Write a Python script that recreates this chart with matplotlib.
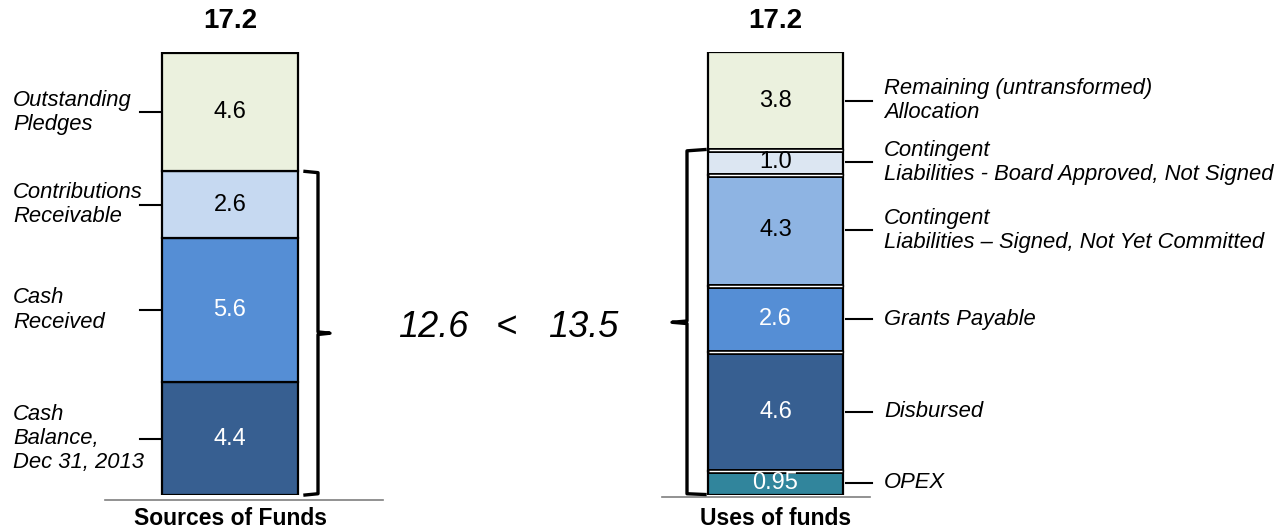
import matplotlib
matplotlib.use("Agg")
import matplotlib.pyplot as plt
import numpy as np

plt.rcParams['font.family'] = ['Liberation Sans', 'DejaVu Sans']

# valores (US$ bilhoes), de baixo para cima
fontes_labels = ['Cash\nBalance,\nDec 31, 2013', 'Cash\nReceived',
                 'Contributions\nReceivable', 'Outstanding\nPledges']
fontes_vals = [4.4, 5.6, 2.6, 4.6]
fontes_cores = ['#375F91', '#558ED5', '#C6D9F1', '#EBF1DE']
fontes_txt = ['white', 'white', 'black', 'black']

usos_labels = ['OPEX', 'Disbursed', 'Grants Payable',
               'Contingent\nLiabilities \u2013 Signed, Not Yet Committed',
               'Contingent\nLiabilities - Board Approved, Not Signed',
               'Remaining (untransformed)\nAllocation']
usos_vals = [0.95, 4.6, 2.6, 4.3, 1.0, 3.8]
usos_cores = ['#31859C', '#375F91', '#558ED5', '#8EB4E3', '#DCE6F2', '#EBF1DE']
usos_txt = ['white', 'white', 'white', 'black', 'black', 'black']

totais = [17.2, 17.2]
chave_totais = [12.6, 13.5]
chave_n = [3, 5]          # quantos segmentos a chave abrange
eixo_labels = ['Sources of Funds', 'Uses of funds']

fig = plt.figure(figsize=(12.82, 5.30), dpi=100)
ax = fig.add_axes([0, 0.066, 1, 0.836])
ax.set_xlim(0, 1282)
ax.set_ylim(0, 17.25)
ax.axis('off')

def barra(xc, larg, vals, cores, txtc, separar=False):
    base = np.concatenate([[0], np.cumsum(vals)[:-1]])
    ax.bar(xc, vals, bottom=base, width=larg, color=cores,
           edgecolor='black', linewidth=1.6, zorder=2)
    if separar:
        # segmentos separados por um filete branco
        for b in base[1:]:
            ax.plot([xc - larg / 2, xc + larg / 2], [b, b], color='black',
                    lw=3.6, solid_capstyle='butt', zorder=2.5)
            ax.plot([xc - larg / 2 + 1, xc + larg / 2 - 1], [b, b], color='white',
                    lw=1.0, solid_capstyle='butt', zorder=2.6)
    for b, v, c in zip(base, vals, txtc):
        ax.text(xc, b + v / 2, '%g' % v if v != 1.0 else '1.0', ha='center', va='center',
                fontsize=17, color=c, zorder=3)
    return base

# barra esquerda
xl, wl = 230, 136
base_f = barra(xl, wl, fontes_vals, fontes_cores, fontes_txt)
for b, v, lab in zip(base_f, fontes_vals, fontes_labels):
    yc = b + v / 2
    ax.plot([140, 160], [yc, yc], color='black', lw=1.5)
    ax.text(13, yc, lab, ha='left', va='center', fontsize=15.8,
            style='italic', linespacing=1.2)

# barra direita
xr, wr = 775.5, 135
base_u = barra(xr, wr, usos_vals, usos_cores, usos_txt, separar=True)
for b, v, lab in zip(base_u, usos_vals, usos_labels):
    yc = b + v / 2
    ax.plot([846, 872], [yc, yc], color='black', lw=1.5)
    ax.text(884, yc, lab, ha='left', va='center', fontsize=15.8,
            style='italic', linespacing=1.2)

# totais no topo e rotulos de base
ax.text(xl, 18.45, '%.1f' % totais[0], ha='center', va='center',
        fontsize=20, fontweight='bold')
ax.text(xr, 18.45, '%.1f' % totais[1], ha='center', va='center',
        fontsize=20, fontweight='bold')
ax.plot([105, 383], [-0.2, -0.2], color='#7f7f7f', lw=1.2, clip_on=False)
ax.plot([662, 870], [-0.08, -0.08], color='#7f7f7f', lw=1.2, clip_on=False)
ax.text(xl, -0.93, eixo_labels[0], ha='center', va='center',
        fontsize=16.5, fontweight='bold')
ax.text(xr, -0.93, eixo_labels[1], ha='center', va='center',
        fontsize=16.5, fontweight='bold')

# chaves
topo_l = sum(fontes_vals[:chave_n[0]])
meio_l = topo_l / 2
ax.plot([305, 318, 318, 330, 318, 318, 305],
        [topo_l, topo_l - 0.05, meio_l + 0.05, meio_l, meio_l - 0.05, 0.05, 0],
        color='black', lw=2.4, solid_joinstyle='round', clip_on=False)
topo_r = sum(usos_vals[:chave_n[1]])
meio_r = topo_r / 2
ax.plot([705, 687, 687, 672, 687, 687, 705],
        [topo_r, topo_r - 0.05, meio_r + 0.05, meio_r, meio_r - 0.05, 0.05, 0.02],
        color='black', lw=2.4, solid_joinstyle='round', clip_on=False)

# comparacao
ym = (meio_l + meio_r) / 2
ax.text(433, ym, '%.1f' % chave_totais[0], ha='center', va='center',
        fontsize=26, style='italic')
ax.text(506, ym, '<', ha='center', va='center', fontsize=26, style='italic')
ax.text(583, ym, '%.1f' % chave_totais[1], ha='center', va='center',
        fontsize=26, style='italic')

fig.savefig('out.png', dpi=100)
